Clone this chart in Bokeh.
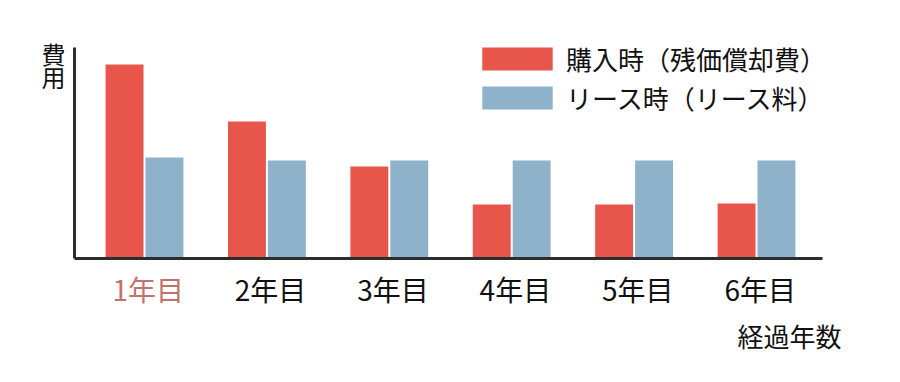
from bokeh.plotting import figure
from bokeh.models import Range1d, Legend, LegendItem, LinearAxis, FixedTicker
from bokeh.core.properties import value
from bokeh.embed import file_html
from bokeh.resources import INLINE

categories = ["1年目", "2年目", "3年目", "4年目", "5年目", "6年目"]
purchase = [194, 137, 92, 54, 54, 55]
lease = [101, 98, 98, 98, 98, 98]
series_names = ["購入時（残価償却費）", "リース時（リース料）"]
label_colors = ["#c0736a", "#111111", "#111111", "#111111", "#111111", "#111111"]
y_title = ["費", "用"]
x_title = "経過年数"

RED = "#e8554a"
BLUE = "#8fb2cb"
AXIS = "#2d2d2d"
FONT = "Noto Sans CJK JP"

W, H = 890, 375
UNIT = 122.4          # px per category step
X0 = 144.0            # px of first group centre
Y0 = 258.0            # px of baseline
xs_px = lambda px: (px - X0) / UNIT

p = figure(width=W, height=H, output_backend="svg", toolbar_location=None,
           x_range=Range1d(xs_px(0), xs_px(W)), y_range=Range1d(Y0 - H, Y0),
           min_border=0, x_axis_type=None, y_axis_type=None)
p.outline_line_color = None
p.grid.visible = False
p.background_fill_color = "white"

xs = list(range(len(categories)))
bw = 0.31
off = 0.163
r1 = p.vbar(x=[x - off for x in xs], top=purchase, width=bw, bottom=0,
            fill_color=RED, line_color=None)
r2 = p.vbar(x=[x + off for x in xs], top=lease, width=bw, bottom=0,
            fill_color=BLUE, line_color=None)

x_left = xs_px(74)
x_right = xs_px(822)
y_top = 211

xaxis = LinearAxis(fixed_location=0, bounds=(x_left, x_right),
                   ticker=FixedTicker(ticks=[]))
yaxis = LinearAxis(fixed_location=x_left, bounds=(0, y_top),
                   ticker=FixedTicker(ticks=[]))
for ax in (xaxis, yaxis):
    ax.axis_line_color = AXIS
    ax.axis_line_width = 3
    ax.major_tick_line_color = None
    ax.minor_tick_line_color = None
    ax.major_label_text_font_size = "0px"
p.add_layout(xaxis, "below")
p.add_layout(yaxis, "left")

p.text(x=[x + 0.03 for x in xs], y=[-10] * len(xs), text=categories,
       text_color=label_colors, text_align="center", text_baseline="top",
       text_font=value(FONT), text_font_size="28px")
p.text(x=[xs_px(53)] * 2, y=[223, 200], text=y_title, text_color="#111111",
       text_align="center", text_baseline="top", text_font=value(FONT),
       text_font_size="24px")
p.text(x=[xs_px(841)], y=[-58], text=[x_title], text_color="#111111",
       text_align="right", text_baseline="top", text_font=value(FONT),
       text_font_size="26px")

legend = Legend(items=[LegendItem(label=series_names[0], renderers=[r1]),
                       LegendItem(label=series_names[1], renderers=[r2])],
                location=(473, 259), orientation="vertical",
                glyph_width=88, glyph_height=29, label_height=23,
                label_standoff=5, spacing=2, padding=0, margin=0,
                border_line_alpha=0, background_fill_alpha=0,
                label_text_font=FONT, label_text_font_size="26px",
                label_text_color="#111111")
p.add_layout(legend)

open("out.html", "w").write(file_html(p, INLINE))
